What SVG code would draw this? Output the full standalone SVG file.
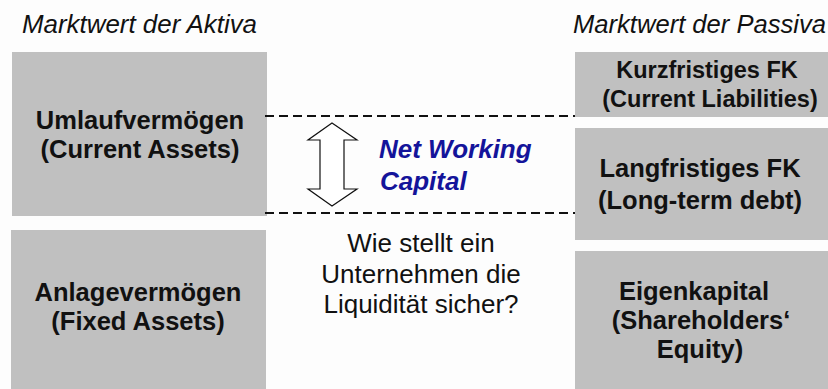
<svg xmlns="http://www.w3.org/2000/svg" width="828" height="389" viewBox="0 0 828 389">
  <style>
    .box { fill: #c0c0c0; }
    .hdr { font-family: "Liberation Sans", Arial, sans-serif; font-size: 25.5px; font-style: italic; fill: #111; }
    .lbl { font-family: "Liberation Sans", Arial, sans-serif; font-size: 25.5px; font-weight: bold; fill: #111; text-anchor: middle; }
    .lbls { font-family: "Liberation Sans", Arial, sans-serif; font-size: 23.5px; font-weight: bold; fill: #111; text-anchor: middle; }
    .q { font-family: "Liberation Sans", Arial, sans-serif; font-size: 26px; fill: #111; text-anchor: middle; }
    .nwc { font-family: "Liberation Sans", Arial, sans-serif; font-size: 26px; font-weight: bold; font-style: italic; fill: #14149a; }
    .dash { stroke: #111; stroke-width: 2; stroke-dasharray: 9 5; fill: none; }
  </style>
  <rect width="828" height="389" fill="#fdfdfd"/>

  <g id="headers">
    <text class="hdr" x="22" y="33" textLength="235" lengthAdjust="spacingAndGlyphs">Marktwert der Aktiva</text>
    <text class="hdr" x="573" y="33" textLength="253" lengthAdjust="spacingAndGlyphs">Marktwert der Passiva</text>
  </g>

  <g id="umlaufvermoegen">
    <rect class="box" x="12" y="52" width="255" height="164"/>
    <text class="lbl" x="140" y="129">Umlaufvermögen</text>
    <text class="lbl" x="140" y="158">(Current Assets)</text>
  </g>

  <g id="anlagevermoegen">
    <rect class="box" x="11" y="230" width="255" height="159"/>
    <text class="lbl" x="138" y="301">Anlagevermögen</text>
    <text class="lbl" x="138" y="330">(Fixed Assets)</text>
  </g>

  <g id="kurzfristiges-fk">
    <rect class="box" x="575" y="52" width="260" height="65"/>
    <text class="lbls" x="707" y="78">Kurzfristiges FK</text>
    <text class="lbls" x="710" y="107">(Current Liabilities)</text>
  </g>

  <g id="langfristiges-fk">
    <rect class="box" x="575" y="128" width="260" height="112"/>
    <text class="lbl" x="700" y="177">Langfristiges FK</text>
    <text class="lbl" x="700" y="209">(Long-term debt)</text>
  </g>

  <g id="eigenkapital">
    <rect class="box" x="575" y="251" width="260" height="138"/>
    <text class="lbl" x="694" y="300">Eigenkapital</text>
    <text class="lbl" x="701" y="329">(Shareholders‘</text>
    <text class="lbl" x="700" y="358">Equity)</text>
  </g>

  <g id="connectors">
    <line class="dash" x1="265" y1="116" x2="575" y2="116"/>
    <line class="dash" x1="265" y1="213" x2="575" y2="213"/>
    <polygon points="332,123 357,140 344,140 344,189 357,189 332,206 308,189 320,189 320,140 308,140" fill="#ffffff" stroke="#111" stroke-width="1.2" stroke-linejoin="miter"/>
  </g>

  <g id="net-working-capital">
    <text class="nwc" x="379" y="158">Net Working</text>
    <text class="nwc" x="380" y="190">Capital</text>
  </g>

  <g id="question">
    <text class="q" x="421" y="252">Wie stellt ein</text>
    <text class="q" x="421" y="283">Unternehmen die</text>
    <text class="q" x="421" y="313">Liquidität sicher?</text>
  </g>
</svg>
